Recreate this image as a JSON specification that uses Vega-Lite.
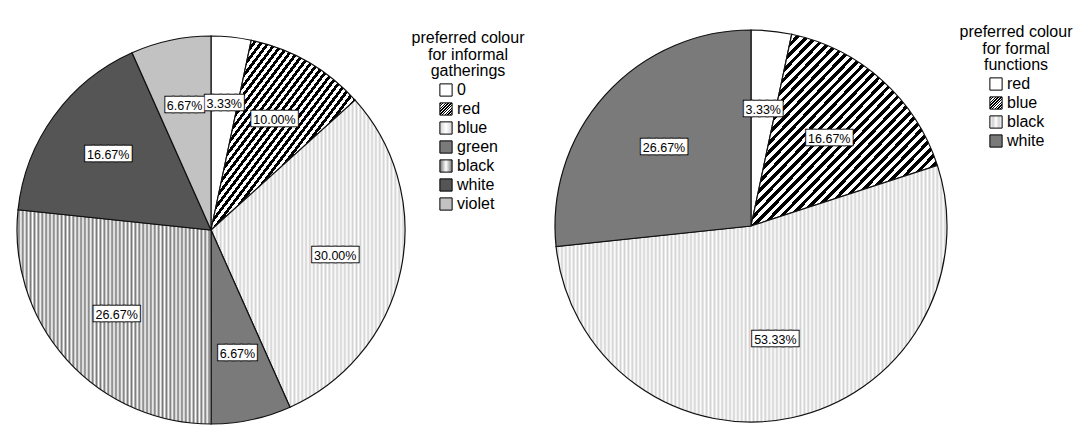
{
  "$schema": "https://vega.github.io/schema/vega-lite/v6.json",
  "background": "white",
  "padding": {"left": 5, "top": 24, "right": 0, "bottom": 0},
  "params": [
    {
      "name": "hatch",
      "value": {
        "gradient": "linear", "x1": 0, "y1": 0, "x2": 1, "y2": 1,
        "stops": [
          {"offset": 0, "color": "#000"}, {"offset": 0.0125, "color": "#000"}, {"offset": 0.0125, "color": "#fff"}, {"offset": 0.025, "color": "#fff"},
          {"offset": 0.025, "color": "#000"}, {"offset": 0.0375, "color": "#000"}, {"offset": 0.0375, "color": "#fff"}, {"offset": 0.05, "color": "#fff"},
          {"offset": 0.05, "color": "#000"}, {"offset": 0.0625, "color": "#000"}, {"offset": 0.0625, "color": "#fff"}, {"offset": 0.075, "color": "#fff"},
          {"offset": 0.075, "color": "#000"}, {"offset": 0.0875, "color": "#000"}, {"offset": 0.0875, "color": "#fff"}, {"offset": 0.1, "color": "#fff"},
          {"offset": 0.1, "color": "#000"}, {"offset": 0.1125, "color": "#000"}, {"offset": 0.1125, "color": "#fff"}, {"offset": 0.125, "color": "#fff"},
          {"offset": 0.125, "color": "#000"}, {"offset": 0.1375, "color": "#000"}, {"offset": 0.1375, "color": "#fff"}, {"offset": 0.15, "color": "#fff"},
          {"offset": 0.15, "color": "#000"}, {"offset": 0.1625, "color": "#000"}, {"offset": 0.1625, "color": "#fff"}, {"offset": 0.175, "color": "#fff"},
          {"offset": 0.175, "color": "#000"}, {"offset": 0.1875, "color": "#000"}, {"offset": 0.1875, "color": "#fff"}, {"offset": 0.2, "color": "#fff"},
          {"offset": 0.2, "color": "#000"}, {"offset": 0.2125, "color": "#000"}, {"offset": 0.2125, "color": "#fff"}, {"offset": 0.225, "color": "#fff"},
          {"offset": 0.225, "color": "#000"}, {"offset": 0.2375, "color": "#000"}, {"offset": 0.2375, "color": "#fff"}, {"offset": 0.25, "color": "#fff"},
          {"offset": 0.25, "color": "#000"}, {"offset": 0.2625, "color": "#000"}, {"offset": 0.2625, "color": "#fff"}, {"offset": 0.275, "color": "#fff"},
          {"offset": 0.275, "color": "#000"}, {"offset": 0.2875, "color": "#000"}, {"offset": 0.2875, "color": "#fff"}, {"offset": 0.3, "color": "#fff"},
          {"offset": 0.3, "color": "#000"}, {"offset": 0.3125, "color": "#000"}, {"offset": 0.3125, "color": "#fff"}, {"offset": 0.325, "color": "#fff"},
          {"offset": 0.325, "color": "#000"}, {"offset": 0.3375, "color": "#000"}, {"offset": 0.3375, "color": "#fff"}, {"offset": 0.35, "color": "#fff"},
          {"offset": 0.35, "color": "#000"}, {"offset": 0.3625, "color": "#000"}, {"offset": 0.3625, "color": "#fff"}, {"offset": 0.375, "color": "#fff"},
          {"offset": 0.375, "color": "#000"}, {"offset": 0.3875, "color": "#000"}, {"offset": 0.3875, "color": "#fff"}, {"offset": 0.4, "color": "#fff"},
          {"offset": 0.4, "color": "#000"}, {"offset": 0.4125, "color": "#000"}, {"offset": 0.4125, "color": "#fff"}, {"offset": 0.425, "color": "#fff"},
          {"offset": 0.425, "color": "#000"}, {"offset": 0.4375, "color": "#000"}, {"offset": 0.4375, "color": "#fff"}, {"offset": 0.45, "color": "#fff"},
          {"offset": 0.45, "color": "#000"}, {"offset": 0.4625, "color": "#000"}, {"offset": 0.4625, "color": "#fff"}, {"offset": 0.475, "color": "#fff"},
          {"offset": 0.475, "color": "#000"}, {"offset": 0.4875, "color": "#000"}, {"offset": 0.4875, "color": "#fff"}, {"offset": 0.5, "color": "#fff"},
          {"offset": 0.5, "color": "#000"}, {"offset": 0.5125, "color": "#000"}, {"offset": 0.5125, "color": "#fff"}, {"offset": 0.525, "color": "#fff"},
          {"offset": 0.525, "color": "#000"}, {"offset": 0.5375, "color": "#000"}, {"offset": 0.5375, "color": "#fff"}, {"offset": 0.55, "color": "#fff"},
          {"offset": 0.55, "color": "#000"}, {"offset": 0.5625, "color": "#000"}, {"offset": 0.5625, "color": "#fff"}, {"offset": 0.575, "color": "#fff"},
          {"offset": 0.575, "color": "#000"}, {"offset": 0.5875, "color": "#000"}, {"offset": 0.5875, "color": "#fff"}, {"offset": 0.6, "color": "#fff"},
          {"offset": 0.6, "color": "#000"}, {"offset": 0.6125, "color": "#000"}, {"offset": 0.6125, "color": "#fff"}, {"offset": 0.625, "color": "#fff"},
          {"offset": 0.625, "color": "#000"}, {"offset": 0.6375, "color": "#000"}, {"offset": 0.6375, "color": "#fff"}, {"offset": 0.65, "color": "#fff"},
          {"offset": 0.65, "color": "#000"}, {"offset": 0.6625, "color": "#000"}, {"offset": 0.6625, "color": "#fff"}, {"offset": 0.675, "color": "#fff"},
          {"offset": 0.675, "color": "#000"}, {"offset": 0.6875, "color": "#000"}, {"offset": 0.6875, "color": "#fff"}, {"offset": 0.7, "color": "#fff"},
          {"offset": 0.7, "color": "#000"}, {"offset": 0.7125, "color": "#000"}, {"offset": 0.7125, "color": "#fff"}, {"offset": 0.725, "color": "#fff"},
          {"offset": 0.725, "color": "#000"}, {"offset": 0.7375, "color": "#000"}, {"offset": 0.7375, "color": "#fff"}, {"offset": 0.75, "color": "#fff"},
          {"offset": 0.75, "color": "#000"}, {"offset": 0.7625, "color": "#000"}, {"offset": 0.7625, "color": "#fff"}, {"offset": 0.775, "color": "#fff"},
          {"offset": 0.775, "color": "#000"}, {"offset": 0.7875, "color": "#000"}, {"offset": 0.7875, "color": "#fff"}, {"offset": 0.8, "color": "#fff"},
          {"offset": 0.8, "color": "#000"}, {"offset": 0.8125, "color": "#000"}, {"offset": 0.8125, "color": "#fff"}, {"offset": 0.825, "color": "#fff"},
          {"offset": 0.825, "color": "#000"}, {"offset": 0.8375, "color": "#000"}, {"offset": 0.8375, "color": "#fff"}, {"offset": 0.85, "color": "#fff"},
          {"offset": 0.85, "color": "#000"}, {"offset": 0.8625, "color": "#000"}, {"offset": 0.8625, "color": "#fff"}, {"offset": 0.875, "color": "#fff"},
          {"offset": 0.875, "color": "#000"}, {"offset": 0.8875, "color": "#000"}, {"offset": 0.8875, "color": "#fff"}, {"offset": 0.9, "color": "#fff"},
          {"offset": 0.9, "color": "#000"}, {"offset": 0.9125, "color": "#000"}, {"offset": 0.9125, "color": "#fff"}, {"offset": 0.925, "color": "#fff"},
          {"offset": 0.925, "color": "#000"}, {"offset": 0.9375, "color": "#000"}, {"offset": 0.9375, "color": "#fff"}, {"offset": 0.95, "color": "#fff"},
          {"offset": 0.95, "color": "#000"}, {"offset": 0.9625, "color": "#000"}, {"offset": 0.9625, "color": "#fff"}, {"offset": 0.975, "color": "#fff"},
          {"offset": 0.975, "color": "#000"}, {"offset": 0.9875, "color": "#000"}, {"offset": 0.9875, "color": "#fff"}, {"offset": 1, "color": "#fff"}
        ]
      }
    },
    {
      "name": "rules",
      "value": {
        "gradient": "linear", "x1": 0, "y1": 0, "x2": 1, "y2": 0,
        "stops": [
          {"offset": 0, "color": "#fff"}, {"offset": 0.01, "color": "#777"}, {"offset": 0.02, "color": "#fff"}, {"offset": 0.03, "color": "#777"}, {"offset": 0.04, "color": "#fff"},
          {"offset": 0.05, "color": "#777"}, {"offset": 0.06, "color": "#fff"}, {"offset": 0.07, "color": "#777"}, {"offset": 0.08, "color": "#fff"}, {"offset": 0.09, "color": "#777"},
          {"offset": 0.1, "color": "#fff"}, {"offset": 0.11, "color": "#777"}, {"offset": 0.12, "color": "#fff"}, {"offset": 0.13, "color": "#777"}, {"offset": 0.14, "color": "#fff"},
          {"offset": 0.15, "color": "#777"}, {"offset": 0.16, "color": "#fff"}, {"offset": 0.17, "color": "#777"}, {"offset": 0.18, "color": "#fff"}, {"offset": 0.19, "color": "#777"},
          {"offset": 0.2, "color": "#fff"}, {"offset": 0.21, "color": "#777"}, {"offset": 0.22, "color": "#fff"}, {"offset": 0.23, "color": "#777"}, {"offset": 0.24, "color": "#fff"},
          {"offset": 0.25, "color": "#777"}, {"offset": 0.26, "color": "#fff"}, {"offset": 0.27, "color": "#777"}, {"offset": 0.28, "color": "#fff"}, {"offset": 0.29, "color": "#777"},
          {"offset": 0.3, "color": "#fff"}, {"offset": 0.31, "color": "#777"}, {"offset": 0.32, "color": "#fff"}, {"offset": 0.33, "color": "#777"}, {"offset": 0.34, "color": "#fff"},
          {"offset": 0.35, "color": "#777"}, {"offset": 0.36, "color": "#fff"}, {"offset": 0.37, "color": "#777"}, {"offset": 0.38, "color": "#fff"}, {"offset": 0.39, "color": "#777"},
          {"offset": 0.4, "color": "#fff"}, {"offset": 0.41, "color": "#777"}, {"offset": 0.42, "color": "#fff"}, {"offset": 0.43, "color": "#777"}, {"offset": 0.44, "color": "#fff"},
          {"offset": 0.45, "color": "#777"}, {"offset": 0.46, "color": "#fff"}, {"offset": 0.47, "color": "#777"}, {"offset": 0.48, "color": "#fff"}, {"offset": 0.49, "color": "#777"},
          {"offset": 0.5, "color": "#fff"}, {"offset": 0.51, "color": "#777"}, {"offset": 0.52, "color": "#fff"}, {"offset": 0.53, "color": "#777"}, {"offset": 0.54, "color": "#fff"},
          {"offset": 0.55, "color": "#777"}, {"offset": 0.56, "color": "#fff"}, {"offset": 0.57, "color": "#777"}, {"offset": 0.58, "color": "#fff"}, {"offset": 0.59, "color": "#777"},
          {"offset": 0.6, "color": "#fff"}, {"offset": 0.61, "color": "#777"}, {"offset": 0.62, "color": "#fff"}, {"offset": 0.63, "color": "#777"}, {"offset": 0.64, "color": "#fff"},
          {"offset": 0.65, "color": "#777"}, {"offset": 0.66, "color": "#fff"}, {"offset": 0.67, "color": "#777"}, {"offset": 0.68, "color": "#fff"}, {"offset": 0.69, "color": "#777"},
          {"offset": 0.7, "color": "#fff"}, {"offset": 0.71, "color": "#777"}, {"offset": 0.72, "color": "#fff"}, {"offset": 0.73, "color": "#777"}, {"offset": 0.74, "color": "#fff"},
          {"offset": 0.75, "color": "#777"}, {"offset": 0.76, "color": "#fff"}, {"offset": 0.77, "color": "#777"}, {"offset": 0.78, "color": "#fff"}, {"offset": 0.79, "color": "#777"},
          {"offset": 0.8, "color": "#fff"}, {"offset": 0.81, "color": "#777"}, {"offset": 0.82, "color": "#fff"}, {"offset": 0.83, "color": "#777"}, {"offset": 0.84, "color": "#fff"},
          {"offset": 0.85, "color": "#777"}, {"offset": 0.86, "color": "#fff"}, {"offset": 0.87, "color": "#777"}, {"offset": 0.88, "color": "#fff"}, {"offset": 0.89, "color": "#777"},
          {"offset": 0.9, "color": "#fff"}, {"offset": 0.91, "color": "#777"}, {"offset": 0.92, "color": "#fff"}, {"offset": 0.93, "color": "#777"}, {"offset": 0.94, "color": "#fff"},
          {"offset": 0.95, "color": "#777"}, {"offset": 0.96, "color": "#fff"}, {"offset": 0.97, "color": "#777"}, {"offset": 0.98, "color": "#fff"}, {"offset": 0.99, "color": "#777"},
          {"offset": 1, "color": "#fff"}
        ]
      }
    },
    {
      "name": "dots",
      "value": {
        "gradient": "linear", "x1": 0, "y1": 0, "x2": 1, "y2": 0,
        "stops": [
          {"offset": 0, "color": "#fff"}, {"offset": 0.01, "color": "#d2d2d2"}, {"offset": 0.02, "color": "#fff"}, {"offset": 0.03, "color": "#d2d2d2"}, {"offset": 0.04, "color": "#fff"},
          {"offset": 0.05, "color": "#d2d2d2"}, {"offset": 0.06, "color": "#fff"}, {"offset": 0.07, "color": "#d2d2d2"}, {"offset": 0.08, "color": "#fff"}, {"offset": 0.09, "color": "#d2d2d2"},
          {"offset": 0.1, "color": "#fff"}, {"offset": 0.11, "color": "#d2d2d2"}, {"offset": 0.12, "color": "#fff"}, {"offset": 0.13, "color": "#d2d2d2"}, {"offset": 0.14, "color": "#fff"},
          {"offset": 0.15, "color": "#d2d2d2"}, {"offset": 0.16, "color": "#fff"}, {"offset": 0.17, "color": "#d2d2d2"}, {"offset": 0.18, "color": "#fff"}, {"offset": 0.19, "color": "#d2d2d2"},
          {"offset": 0.2, "color": "#fff"}, {"offset": 0.21, "color": "#d2d2d2"}, {"offset": 0.22, "color": "#fff"}, {"offset": 0.23, "color": "#d2d2d2"}, {"offset": 0.24, "color": "#fff"},
          {"offset": 0.25, "color": "#d2d2d2"}, {"offset": 0.26, "color": "#fff"}, {"offset": 0.27, "color": "#d2d2d2"}, {"offset": 0.28, "color": "#fff"}, {"offset": 0.29, "color": "#d2d2d2"},
          {"offset": 0.3, "color": "#fff"}, {"offset": 0.31, "color": "#d2d2d2"}, {"offset": 0.32, "color": "#fff"}, {"offset": 0.33, "color": "#d2d2d2"}, {"offset": 0.34, "color": "#fff"},
          {"offset": 0.35, "color": "#d2d2d2"}, {"offset": 0.36, "color": "#fff"}, {"offset": 0.37, "color": "#d2d2d2"}, {"offset": 0.38, "color": "#fff"}, {"offset": 0.39, "color": "#d2d2d2"},
          {"offset": 0.4, "color": "#fff"}, {"offset": 0.41, "color": "#d2d2d2"}, {"offset": 0.42, "color": "#fff"}, {"offset": 0.43, "color": "#d2d2d2"}, {"offset": 0.44, "color": "#fff"},
          {"offset": 0.45, "color": "#d2d2d2"}, {"offset": 0.46, "color": "#fff"}, {"offset": 0.47, "color": "#d2d2d2"}, {"offset": 0.48, "color": "#fff"}, {"offset": 0.49, "color": "#d2d2d2"},
          {"offset": 0.5, "color": "#fff"}, {"offset": 0.51, "color": "#d2d2d2"}, {"offset": 0.52, "color": "#fff"}, {"offset": 0.53, "color": "#d2d2d2"}, {"offset": 0.54, "color": "#fff"},
          {"offset": 0.55, "color": "#d2d2d2"}, {"offset": 0.56, "color": "#fff"}, {"offset": 0.57, "color": "#d2d2d2"}, {"offset": 0.58, "color": "#fff"}, {"offset": 0.59, "color": "#d2d2d2"},
          {"offset": 0.6, "color": "#fff"}, {"offset": 0.61, "color": "#d2d2d2"}, {"offset": 0.62, "color": "#fff"}, {"offset": 0.63, "color": "#d2d2d2"}, {"offset": 0.64, "color": "#fff"},
          {"offset": 0.65, "color": "#d2d2d2"}, {"offset": 0.66, "color": "#fff"}, {"offset": 0.67, "color": "#d2d2d2"}, {"offset": 0.68, "color": "#fff"}, {"offset": 0.69, "color": "#d2d2d2"},
          {"offset": 0.7, "color": "#fff"}, {"offset": 0.71, "color": "#d2d2d2"}, {"offset": 0.72, "color": "#fff"}, {"offset": 0.73, "color": "#d2d2d2"}, {"offset": 0.74, "color": "#fff"},
          {"offset": 0.75, "color": "#d2d2d2"}, {"offset": 0.76, "color": "#fff"}, {"offset": 0.77, "color": "#d2d2d2"}, {"offset": 0.78, "color": "#fff"}, {"offset": 0.79, "color": "#d2d2d2"},
          {"offset": 0.8, "color": "#fff"}, {"offset": 0.81, "color": "#d2d2d2"}, {"offset": 0.82, "color": "#fff"}, {"offset": 0.83, "color": "#d2d2d2"}, {"offset": 0.84, "color": "#fff"},
          {"offset": 0.85, "color": "#d2d2d2"}, {"offset": 0.86, "color": "#fff"}, {"offset": 0.87, "color": "#d2d2d2"}, {"offset": 0.88, "color": "#fff"}, {"offset": 0.89, "color": "#d2d2d2"},
          {"offset": 0.9, "color": "#fff"}, {"offset": 0.91, "color": "#d2d2d2"}, {"offset": 0.92, "color": "#fff"}, {"offset": 0.93, "color": "#d2d2d2"}, {"offset": 0.94, "color": "#fff"},
          {"offset": 0.95, "color": "#d2d2d2"}, {"offset": 0.96, "color": "#fff"}, {"offset": 0.97, "color": "#d2d2d2"}, {"offset": 0.98, "color": "#fff"}, {"offset": 0.99, "color": "#d2d2d2"},
          {"offset": 1, "color": "#fff"}
        ]
      }
    },
    {
      "name": "dotsWide",
      "value": {
        "gradient": "linear", "x1": 0, "y1": 0, "x2": 1, "y2": 0,
        "stops": [
          {"offset": 0, "color": "#fff"}, {"offset": 0.005, "color": "#d2d2d2"}, {"offset": 0.01, "color": "#fff"}, {"offset": 0.015, "color": "#d2d2d2"}, {"offset": 0.02, "color": "#fff"},
          {"offset": 0.025, "color": "#d2d2d2"}, {"offset": 0.03, "color": "#fff"}, {"offset": 0.035, "color": "#d2d2d2"}, {"offset": 0.04, "color": "#fff"}, {"offset": 0.045, "color": "#d2d2d2"},
          {"offset": 0.05, "color": "#fff"}, {"offset": 0.055, "color": "#d2d2d2"}, {"offset": 0.06, "color": "#fff"}, {"offset": 0.065, "color": "#d2d2d2"}, {"offset": 0.07, "color": "#fff"},
          {"offset": 0.075, "color": "#d2d2d2"}, {"offset": 0.08, "color": "#fff"}, {"offset": 0.085, "color": "#d2d2d2"}, {"offset": 0.09, "color": "#fff"}, {"offset": 0.095, "color": "#d2d2d2"},
          {"offset": 0.1, "color": "#fff"}, {"offset": 0.105, "color": "#d2d2d2"}, {"offset": 0.11, "color": "#fff"}, {"offset": 0.115, "color": "#d2d2d2"}, {"offset": 0.12, "color": "#fff"},
          {"offset": 0.125, "color": "#d2d2d2"}, {"offset": 0.13, "color": "#fff"}, {"offset": 0.135, "color": "#d2d2d2"}, {"offset": 0.14, "color": "#fff"}, {"offset": 0.145, "color": "#d2d2d2"},
          {"offset": 0.15, "color": "#fff"}, {"offset": 0.155, "color": "#d2d2d2"}, {"offset": 0.16, "color": "#fff"}, {"offset": 0.165, "color": "#d2d2d2"}, {"offset": 0.17, "color": "#fff"},
          {"offset": 0.175, "color": "#d2d2d2"}, {"offset": 0.18, "color": "#fff"}, {"offset": 0.185, "color": "#d2d2d2"}, {"offset": 0.19, "color": "#fff"}, {"offset": 0.195, "color": "#d2d2d2"},
          {"offset": 0.2, "color": "#fff"}, {"offset": 0.205, "color": "#d2d2d2"}, {"offset": 0.21, "color": "#fff"}, {"offset": 0.215, "color": "#d2d2d2"}, {"offset": 0.22, "color": "#fff"},
          {"offset": 0.225, "color": "#d2d2d2"}, {"offset": 0.23, "color": "#fff"}, {"offset": 0.235, "color": "#d2d2d2"}, {"offset": 0.24, "color": "#fff"}, {"offset": 0.245, "color": "#d2d2d2"},
          {"offset": 0.25, "color": "#fff"}, {"offset": 0.255, "color": "#d2d2d2"}, {"offset": 0.26, "color": "#fff"}, {"offset": 0.265, "color": "#d2d2d2"}, {"offset": 0.27, "color": "#fff"},
          {"offset": 0.275, "color": "#d2d2d2"}, {"offset": 0.28, "color": "#fff"}, {"offset": 0.285, "color": "#d2d2d2"}, {"offset": 0.29, "color": "#fff"}, {"offset": 0.295, "color": "#d2d2d2"},
          {"offset": 0.3, "color": "#fff"}, {"offset": 0.305, "color": "#d2d2d2"}, {"offset": 0.31, "color": "#fff"}, {"offset": 0.315, "color": "#d2d2d2"}, {"offset": 0.32, "color": "#fff"},
          {"offset": 0.325, "color": "#d2d2d2"}, {"offset": 0.33, "color": "#fff"}, {"offset": 0.335, "color": "#d2d2d2"}, {"offset": 0.34, "color": "#fff"}, {"offset": 0.345, "color": "#d2d2d2"},
          {"offset": 0.35, "color": "#fff"}, {"offset": 0.355, "color": "#d2d2d2"}, {"offset": 0.36, "color": "#fff"}, {"offset": 0.365, "color": "#d2d2d2"}, {"offset": 0.37, "color": "#fff"},
          {"offset": 0.375, "color": "#d2d2d2"}, {"offset": 0.38, "color": "#fff"}, {"offset": 0.385, "color": "#d2d2d2"}, {"offset": 0.39, "color": "#fff"}, {"offset": 0.395, "color": "#d2d2d2"},
          {"offset": 0.4, "color": "#fff"}, {"offset": 0.405, "color": "#d2d2d2"}, {"offset": 0.41, "color": "#fff"}, {"offset": 0.415, "color": "#d2d2d2"}, {"offset": 0.42, "color": "#fff"},
          {"offset": 0.425, "color": "#d2d2d2"}, {"offset": 0.43, "color": "#fff"}, {"offset": 0.435, "color": "#d2d2d2"}, {"offset": 0.44, "color": "#fff"}, {"offset": 0.445, "color": "#d2d2d2"},
          {"offset": 0.45, "color": "#fff"}, {"offset": 0.455, "color": "#d2d2d2"}, {"offset": 0.46, "color": "#fff"}, {"offset": 0.465, "color": "#d2d2d2"}, {"offset": 0.47, "color": "#fff"},
          {"offset": 0.475, "color": "#d2d2d2"}, {"offset": 0.48, "color": "#fff"}, {"offset": 0.485, "color": "#d2d2d2"}, {"offset": 0.49, "color": "#fff"}, {"offset": 0.495, "color": "#d2d2d2"},
          {"offset": 0.5, "color": "#fff"}, {"offset": 0.505, "color": "#d2d2d2"}, {"offset": 0.51, "color": "#fff"}, {"offset": 0.515, "color": "#d2d2d2"}, {"offset": 0.52, "color": "#fff"},
          {"offset": 0.525, "color": "#d2d2d2"}, {"offset": 0.53, "color": "#fff"}, {"offset": 0.535, "color": "#d2d2d2"}, {"offset": 0.54, "color": "#fff"}, {"offset": 0.545, "color": "#d2d2d2"},
          {"offset": 0.55, "color": "#fff"}, {"offset": 0.555, "color": "#d2d2d2"}, {"offset": 0.56, "color": "#fff"}, {"offset": 0.565, "color": "#d2d2d2"}, {"offset": 0.57, "color": "#fff"},
          {"offset": 0.575, "color": "#d2d2d2"}, {"offset": 0.58, "color": "#fff"}, {"offset": 0.585, "color": "#d2d2d2"}, {"offset": 0.59, "color": "#fff"}, {"offset": 0.595, "color": "#d2d2d2"},
          {"offset": 0.6, "color": "#fff"}, {"offset": 0.605, "color": "#d2d2d2"}, {"offset": 0.61, "color": "#fff"}, {"offset": 0.615, "color": "#d2d2d2"}, {"offset": 0.62, "color": "#fff"},
          {"offset": 0.625, "color": "#d2d2d2"}, {"offset": 0.63, "color": "#fff"}, {"offset": 0.635, "color": "#d2d2d2"}, {"offset": 0.64, "color": "#fff"}, {"offset": 0.645, "color": "#d2d2d2"},
          {"offset": 0.65, "color": "#fff"}, {"offset": 0.655, "color": "#d2d2d2"}, {"offset": 0.66, "color": "#fff"}, {"offset": 0.665, "color": "#d2d2d2"}, {"offset": 0.67, "color": "#fff"},
          {"offset": 0.675, "color": "#d2d2d2"}, {"offset": 0.68, "color": "#fff"}, {"offset": 0.685, "color": "#d2d2d2"}, {"offset": 0.69, "color": "#fff"}, {"offset": 0.695, "color": "#d2d2d2"},
          {"offset": 0.7, "color": "#fff"}, {"offset": 0.705, "color": "#d2d2d2"}, {"offset": 0.71, "color": "#fff"}, {"offset": 0.715, "color": "#d2d2d2"}, {"offset": 0.72, "color": "#fff"},
          {"offset": 0.725, "color": "#d2d2d2"}, {"offset": 0.73, "color": "#fff"}, {"offset": 0.735, "color": "#d2d2d2"}, {"offset": 0.74, "color": "#fff"}, {"offset": 0.745, "color": "#d2d2d2"},
          {"offset": 0.75, "color": "#fff"}, {"offset": 0.755, "color": "#d2d2d2"}, {"offset": 0.76, "color": "#fff"}, {"offset": 0.765, "color": "#d2d2d2"}, {"offset": 0.77, "color": "#fff"},
          {"offset": 0.775, "color": "#d2d2d2"}, {"offset": 0.78, "color": "#fff"}, {"offset": 0.785, "color": "#d2d2d2"}, {"offset": 0.79, "color": "#fff"}, {"offset": 0.795, "color": "#d2d2d2"},
          {"offset": 0.8, "color": "#fff"}, {"offset": 0.805, "color": "#d2d2d2"}, {"offset": 0.81, "color": "#fff"}, {"offset": 0.815, "color": "#d2d2d2"}, {"offset": 0.82, "color": "#fff"},
          {"offset": 0.825, "color": "#d2d2d2"}, {"offset": 0.83, "color": "#fff"}, {"offset": 0.835, "color": "#d2d2d2"}, {"offset": 0.84, "color": "#fff"}, {"offset": 0.845, "color": "#d2d2d2"},
          {"offset": 0.85, "color": "#fff"}, {"offset": 0.855, "color": "#d2d2d2"}, {"offset": 0.86, "color": "#fff"}, {"offset": 0.865, "color": "#d2d2d2"}, {"offset": 0.87, "color": "#fff"},
          {"offset": 0.875, "color": "#d2d2d2"}, {"offset": 0.88, "color": "#fff"}, {"offset": 0.885, "color": "#d2d2d2"}, {"offset": 0.89, "color": "#fff"}, {"offset": 0.895, "color": "#d2d2d2"},
          {"offset": 0.9, "color": "#fff"}, {"offset": 0.905, "color": "#d2d2d2"}, {"offset": 0.91, "color": "#fff"}, {"offset": 0.915, "color": "#d2d2d2"}, {"offset": 0.92, "color": "#fff"},
          {"offset": 0.925, "color": "#d2d2d2"}, {"offset": 0.93, "color": "#fff"}, {"offset": 0.935, "color": "#d2d2d2"}, {"offset": 0.94, "color": "#fff"}, {"offset": 0.945, "color": "#d2d2d2"},
          {"offset": 0.95, "color": "#fff"}, {"offset": 0.955, "color": "#d2d2d2"}, {"offset": 0.96, "color": "#fff"}, {"offset": 0.965, "color": "#d2d2d2"}, {"offset": 0.97, "color": "#fff"},
          {"offset": 0.975, "color": "#d2d2d2"}, {"offset": 0.98, "color": "#fff"}, {"offset": 0.985, "color": "#d2d2d2"}, {"offset": 0.99, "color": "#fff"}, {"offset": 0.995, "color": "#d2d2d2"},
          {"offset": 1, "color": "#fff"}
        ]
      }
    }
  ],
  "datasets": {
    "informal": [
      {"colour": "0", "share": 0.0333, "seq": 1},
      {"colour": "red", "share": 0.1, "seq": 2},
      {"colour": "blue", "share": 0.3, "seq": 3},
      {"colour": "green", "share": 0.0667, "seq": 4},
      {"colour": "black", "share": 0.2667, "seq": 5},
      {"colour": "white", "share": 0.1667, "seq": 6},
      {"colour": "violet", "share": 0.0667, "seq": 7}
    ],
    "formal": [
      {"colour": "red", "share": 0.0333, "seq": 1},
      {"colour": "blue", "share": 0.1667, "seq": 2},
      {"colour": "black", "share": 0.5333, "seq": 3},
      {"colour": "white", "share": 0.2667, "seq": 4}
    ]
  },
  "spacing": 128,
  "bounds": "flush",
  "hconcat": [
    {
      "data": {"name": "informal"},
      "width": 412,
      "height": 412,
      "encoding": {
        "theta": {"field": "share", "type": "quantitative", "stack": true},
        "order": {"field": "seq", "type": "quantitative"}
      },
      "layer": [
        {
          "mark": {"type": "arc", "outerRadius": 194, "stroke": "#111", "strokeWidth": 1.2},
          "encoding": {
            "color": {
              "field": "colour", "type": "nominal", "sort": null,
              "scale": {"range": ["#ffffff", {"expr": "hatch"}, {"expr": "dots"}, "#7a7a7a", {"expr": "rules"}, "#555555", "#c2c2c2"]},
              "legend": {"title": ["preferred colour", "for informal", "gatherings"], "orient": "none", "legendX": 407, "legendY": 6}
            }
          }
        },
        {
          "mark": {"type": "text", "radius": 127, "font": "DejaVu Sans Mono", "fontSize": 12.6, "baseline": "middle", "dy": -1,
                   "text": {"expr": "pad('', length(format(datum.share, '.2%')), '█')"},
                   "fill": "black", "stroke": "black", "strokeWidth": 2.6}
        },
        {
          "mark": {"type": "text", "radius": 127, "font": "DejaVu Sans Mono", "fontSize": 12.6, "baseline": "middle", "dy": -1,
                   "text": {"expr": "pad('', length(format(datum.share, '.2%')), '█')"},
                   "fill": "white", "stroke": "white", "strokeWidth": 0.6}
        },
        {
          "mark": {"type": "text", "radius": 127, "font": "Liberation Sans", "fontSize": 12.5, "baseline": "middle", "fill": "black"},
          "encoding": {"text": {"field": "share", "type": "quantitative", "format": ".2%"}}
        }
      ]
    },
    {
      "data": {"name": "formal"},
      "width": 412,
      "height": 404,
      "encoding": {
        "theta": {"field": "share", "type": "quantitative", "stack": true},
        "order": {"field": "seq", "type": "quantitative"}
      },
      "layer": [
        {
          "mark": {"type": "arc", "outerRadius": 196, "stroke": "#111", "strokeWidth": 1.2},
          "encoding": {
            "color": {
              "field": "colour", "type": "nominal", "sort": null,
              "scale": {"range": ["#ffffff", {"expr": "hatch"}, {"expr": "dotsWide"}, "#7a7a7a"]},
              "legend": {"title": ["preferred colour", "for formal", "functions"], "orient": "none", "legendX": 415, "legendY": 0}
            }
          }
        },
        {
          "mark": {"type": "text", "radius": 117, "font": "DejaVu Sans Mono", "fontSize": 12.6, "baseline": "middle", "dy": -1,
                   "text": {"expr": "pad('', length(format(datum.share, '.2%')), '█')"},
                   "fill": "black", "stroke": "black", "strokeWidth": 2.6}
        },
        {
          "mark": {"type": "text", "radius": 117, "font": "DejaVu Sans Mono", "fontSize": 12.6, "baseline": "middle", "dy": -1,
                   "text": {"expr": "pad('', length(format(datum.share, '.2%')), '█')"},
                   "fill": "white", "stroke": "white", "strokeWidth": 0.6}
        },
        {
          "mark": {"type": "text", "radius": 117, "font": "Liberation Sans", "fontSize": 12.5, "baseline": "middle", "fill": "black"},
          "encoding": {"text": {"field": "share", "type": "quantitative", "format": ".2%"}}
        }
      ]
    }
  ],
  "resolve": {
    "scale": {"color": "independent", "theta": "independent"},
    "legend": {"color": "independent"}
  },
  "config": {
    "view": {"stroke": null},
    "legend": {
      "symbolType": "square",
      "symbolSize": 150,
      "symbolStrokeColor": "black",
      "symbolStrokeWidth": 1,
      "symbolOpacity": 1,
      "labelFont": "Liberation Sans",
      "labelFontSize": 16,
      "labelColor": "black",
      "labelOffset": 3,
      "titleFont": "Liberation Sans",
      "titleFontSize": 16,
      "titleFontWeight": "normal",
      "titleColor": "black",
      "titleLineHeight": 16.5,
      "titleAnchor": "middle",
      "titleAlign": "center",
      "titlePadding": 3,
      "rowPadding": 1,
      "padding": 0
    }
  }
}
